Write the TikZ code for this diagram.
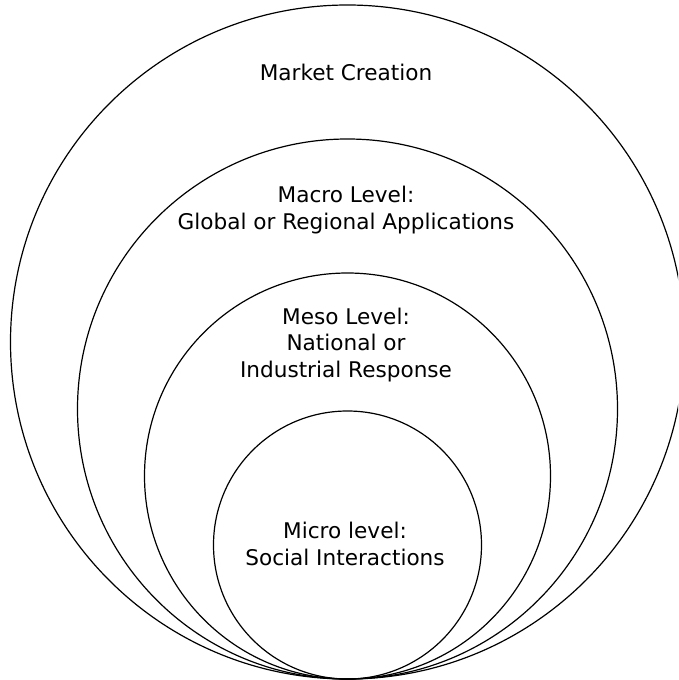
\documentclass[tikz,border=0pt]{standalone}
\usepackage{fontspec}
\setmainfont{DejaVu Sans}
\begin{document}
\begin{tikzpicture}[x=1pt,y=-1pt,
  ring/.style={draw=black, line width=1.2pt, circle, inner sep=0pt, fill=none},
  lbl/.style={align=center, anchor=base, inner sep=0pt, font=\fontsize{21.6pt}{26.5pt}\selectfont}]
\useasboundingbox (0,0) rectangle (678,680);
\clip (0,0) rectangle (678,680);
\fill[white] (0,0) rectangle (678,680);
\node[ring, minimum size=674pt] (outer) at (347.5,342) {};
\node[ring, minimum size=540pt] (macro) at (347.5,409) {};
\node[ring, minimum size=406pt] (meso) at (347.5,476) {};
\node[ring, minimum size=268pt] (micro) at (347.5,545) {};
\node[lbl] (tmarket) at (346,80) {Market Creation};
\node[lbl] (tmacro) at (346,229) {Macro Level:\\Global or Regional Applications};
\node[lbl] (tmeso) at (346,377) {Meso Level:\\National or\\Industrial Response};
\node[lbl] (tmicro) at (345,565) {Micro level:\\Social Interactions};
\end{tikzpicture}
\end{document}
